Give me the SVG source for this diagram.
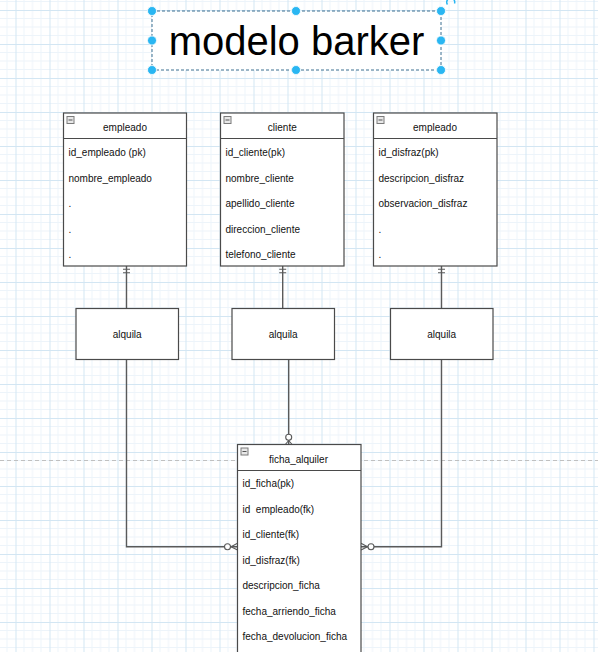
<svg xmlns="http://www.w3.org/2000/svg" width="598" height="652" viewBox="0 0 598 652">
<defs>
<pattern id="grid" patternUnits="userSpaceOnUse" x="15.5" y="10" width="34" height="34">
<rect width="34" height="34" fill="#ffffff"/>
<path d="M8.5 0V34M17 0V34M25.5 0V34M0 8.5H34M0 17H34M0 25.5H34" stroke="#edf4fa" stroke-width="1" fill="none"/>
<path d="M0.5 0V34M0 0.5H34" stroke="#d3e6f3" stroke-width="1" fill="none"/>
</pattern>
<g id="icon">
<rect x="0.5" y="0.5" width="7" height="7" fill="#e8e8e8" stroke="#7a7a7a" stroke-width="1"/>
<path d="M2 4H6" stroke="#555" stroke-width="1"/>
</g>
</defs>
<style>
.t{font-family:"Liberation Sans",Arial,sans-serif;font-size:10px;fill:#111}
.h{text-anchor:middle}
.tbl{fill:#ffffff;stroke:#4a4a4a;stroke-width:1.2}
.sep{stroke:#4a4a4a;stroke-width:1.2}
.ln{fill:none;stroke:#5a5a5a;stroke-width:1.4}
.mk{fill:none;stroke:#5a5a5a;stroke-width:1.1}
.cir{fill:#ffffff;stroke:#5a5a5a;stroke-width:1.1}
.hd{fill:#29b6f2;stroke:#ffffff;stroke-width:0.8}
</style>
<rect width="598" height="652" fill="url(#grid)"/>
<path d="M0 460.5H598" stroke="#c0c0c0" stroke-width="1" stroke-dasharray="4 3"/>

<g id="title">
<rect x="152" y="11" width="289" height="59" fill="#ffffff" stroke="#3a6f90" stroke-width="1" stroke-dasharray="3 2"/>
<text x="296.5" y="55" text-anchor="middle" font-family="'Liberation Sans',Arial,sans-serif" font-size="40" fill="#000">modelo barker</text>
<circle class="hd" cx="152" cy="11" r="4.5"/>
<circle class="hd" cx="296" cy="11" r="4.5"/>
<circle class="hd" cx="441" cy="11" r="4.5"/>
<circle class="hd" cx="152" cy="40.5" r="4.5"/>
<circle class="hd" cx="441" cy="40.5" r="4.5"/>
<circle class="hd" cx="152" cy="70" r="4.5"/>
<circle class="hd" cx="296" cy="70" r="4.5"/>
<circle class="hd" cx="441" cy="70" r="4.5"/>
<path d="M447.5 4.5A4 4 0 1 1 454.5 3.5" fill="none" stroke="#29b6f2" stroke-width="1.5"/>
</g>

<g id="connectors">
<path class="ln" d="M126.5 266V308.5M126.5 359.5V546.7H237.5"/>
<path class="mk" d="M123 269.3H130M123 272.7H130"/>
<circle class="cir" cx="227.5" cy="546.7" r="3"/>
<path class="mk" d="M231 546.7L237.5 543.3M231 546.7L237.5 550.1"/>
<path class="ln" d="M282.7 266V308.5M288.7 359.5V444.5"/>
<path class="mk" d="M279.2 269.3H286.2M279.2 272.7H286.2"/>
<circle class="cir" cx="288.7" cy="437.3" r="3"/>
<path class="mk" d="M288.7 440.5L285.3 444.5M288.7 440.5L292.1 444.5"/>
<path class="ln" d="M441.5 266V308.5M441.5 359.5V546.7H361"/>
<path class="mk" d="M438 269.3H445M438 272.7H445"/>
<circle class="cir" cx="371" cy="546.7" r="3"/>
<path class="mk" d="M367.5 546.7L361 543.3M367.5 546.7L361 550.1"/>
</g>

<g id="empleado">
<rect class="tbl" x="63.5" y="113" width="123" height="153"/>
<path class="sep" d="M63.5 138.5H186.5"/>
<use href="#icon" x="66.5" y="116"/>
<text class="t h" x="125" y="130.5">empleado</text>
<text class="t" x="68.5" y="156">id_empleado (pk)</text>
<text class="t" x="68.5" y="181.5">nombre_empleado</text>
<text class="t" x="68.5" y="207">.</text>
<text class="t" x="68.5" y="232.5">.</text>
<text class="t" x="68.5" y="258">.</text>
</g>

<g id="cliente">
<rect class="tbl" x="220.5" y="113" width="123.5" height="153"/>
<path class="sep" d="M220.5 138.5H344"/>
<use href="#icon" x="223.5" y="116"/>
<text class="t h" x="282.3" y="130.5">cliente</text>
<text class="t" x="225.5" y="156">id_cliente(pk)</text>
<text class="t" x="225.5" y="181.5">nombre_cliente</text>
<text class="t" x="225.5" y="207">apellido_cliente</text>
<text class="t" x="225.5" y="232.5">direccion_cliente</text>
<text class="t" x="225.5" y="258">telefono_cliente</text>
</g>

<g id="disfraz">
<rect class="tbl" x="373.5" y="113" width="123.5" height="153"/>
<path class="sep" d="M373.5 138.5H497"/>
<use href="#icon" x="376.5" y="116"/>
<text class="t h" x="435" y="130.5">empleado</text>
<text class="t" x="378.5" y="156">id_disfraz(pk)</text>
<text class="t" x="378.5" y="181.5">descripcion_disfraz</text>
<text class="t" x="378.5" y="207">observacion_disfraz</text>
<text class="t" x="378.5" y="232.5">.</text>
<text class="t" x="378.5" y="258">.</text>
</g>

<g id="alquila1">
<rect class="tbl" x="76" y="308.5" width="102.5" height="51"/>
<text class="t h" x="127.2" y="338">alquila</text>
</g>
<g id="alquila2">
<rect class="tbl" x="232" y="308.5" width="102.5" height="51"/>
<text class="t h" x="283.2" y="338">alquila</text>
</g>
<g id="alquila3">
<rect class="tbl" x="390.5" y="308.5" width="102.5" height="51"/>
<text class="t h" x="441.7" y="338">alquila</text>
</g>

<g id="ficha_alquiler">
<rect class="tbl" x="237.5" y="444.5" width="123.5" height="220"/>
<path class="sep" d="M237.5 470.5H361"/>
<use href="#icon" x="240.5" y="447.5"/>
<text class="t h" x="298.5" y="462.5">ficha_alquiler</text>
<text class="t" x="242.5" y="487">id_ficha(pk)</text>
<text class="t" x="242.5" y="512.5" xml:space="preserve">id  empleado(fk)</text>
<text class="t" x="242.5" y="538">id_cliente(fk)</text>
<text class="t" x="242.5" y="563.5">id_disfraz(fk)</text>
<text class="t" x="242.5" y="589">descripcion_ficha</text>
<text class="t" x="242.5" y="614.5">fecha_arriendo_ficha</text>
<text class="t" x="242.5" y="640">fecha_devolucion_ficha</text>
</g>
</svg>
